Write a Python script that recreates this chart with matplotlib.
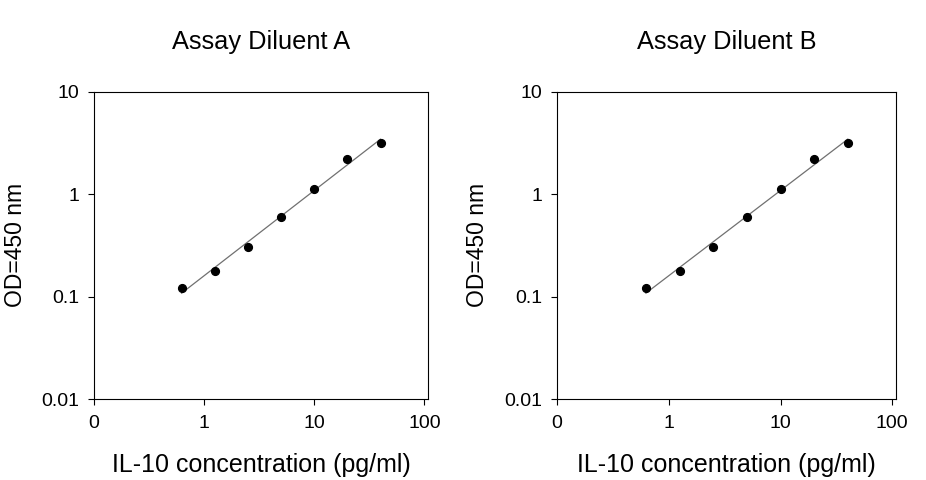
import numpy as np
import matplotlib

matplotlib.use("Agg")
import matplotlib.pyplot as plt  # noqa: E402

plt.rcParams["font.family"] = ["Liberation Sans", "DejaVu Sans"]

# Standard curve (same for both diluents).
conc = [0.625, 1.25, 2.5, 5, 10, 20, 40]
od_a = [0.121, 0.178, 0.306, 0.60, 1.12, 2.22, 3.18]
od_b = [0.121, 0.178, 0.306, 0.60, 1.12, 2.22, 3.18]

titles = ["Assay Diluent A", "Assay Diluent B"]
x_ticks = [0.1, 1, 10, 100]
x_tick_labels = ["0", "1", "10", "100"]
y_ticks = [0.01, 0.1, 1, 10]
y_tick_labels = ["0.01", "0.1", "1", "10"]

LINE_COLOR = "#707070"


def draw_panel(ax, x, y, title):
    lx, ly = np.log10(x), np.log10(y)
    slope, icpt = np.polyfit(lx, ly, 1)
    xf = np.array([x[0], x[-1]])
    ax.plot(xf, 10 ** (icpt + slope * np.log10(xf)), color=LINE_COLOR, lw=0.9,
            zorder=2)
    ax.plot(x, y, "o", color="black", ms=5.6, zorder=3)

    ax.set_xscale("log")
    ax.set_yscale("log")
    ax.set_xlim(0.1, 108)
    ax.set_ylim(0.01, 10)
    ax.set_xticks(x_ticks, x_tick_labels)
    ax.set_yticks(y_ticks, y_tick_labels)
    ax.minorticks_off()
    ax.tick_params(axis="both", direction="out", length=4.5, width=0.8,
                   labelsize=14, color="black")
    ax.tick_params(axis="x", pad=7)
    ax.tick_params(axis="y", pad=6)
    for sp in ax.spines.values():
        sp.set_linewidth(0.8)
        sp.set_color("black")

    ax.set_xlabel("IL-10 concentration (pg/ml)", fontsize=18)
    ax.xaxis.set_label_coords(0.5, -0.215)
    ax.xaxis.label.set_va("center")
    ax.set_ylabel("OD=450 nm", fontsize=16.5)
    ax.yaxis.set_label_coords(-0.235, 0.5)
    ax.yaxis.label.set_va("center")
    ax.text(0.5, 1.162, title, transform=ax.transAxes, ha="center",
            va="center", fontsize=18.3)


fig = plt.figure(figsize=(9.26, 4.8), dpi=100)
ax_a = fig.add_axes([94 / 926, 81 / 480, 334 / 926, 307.3 / 480])
ax_b = fig.add_axes([557 / 926, 81 / 480, 339 / 926, 307.3 / 480])

draw_panel(ax_a, conc, od_a, titles[0])
draw_panel(ax_b, conc, od_b, titles[1])

fig.savefig("out.png", dpi=100)
